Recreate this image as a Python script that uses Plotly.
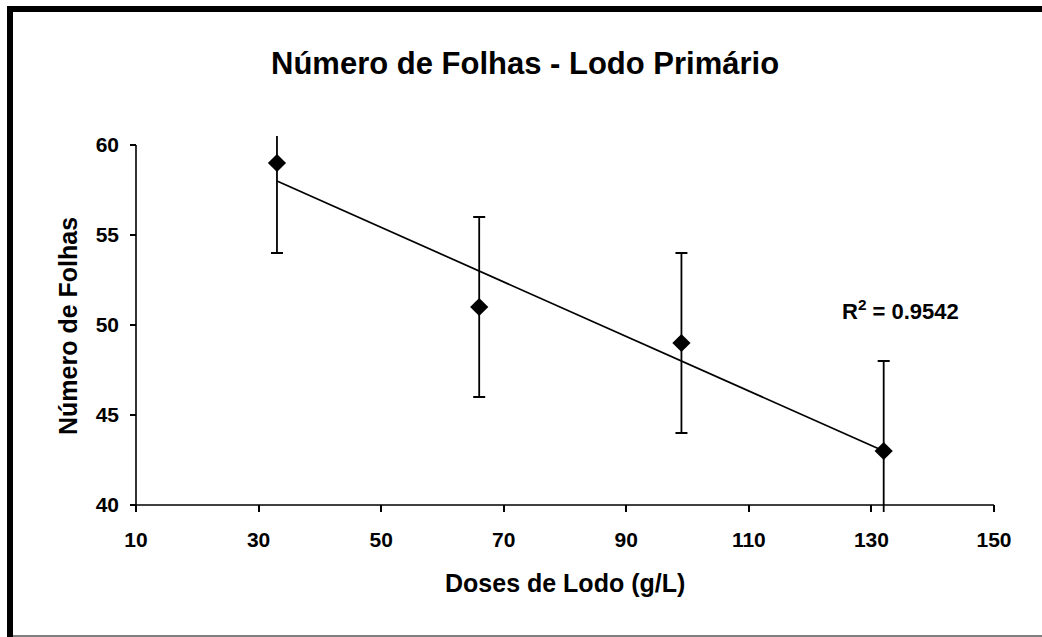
import numpy as np
import plotly.graph_objects as go

doses = [33, 66, 99, 132]
folhas = [59, 51, 49, 43]
erro = [5, 5, 5, 5]
x_ticks = [10, 30, 50, 70, 90, 110, 130, 150]
y_ticks = [40, 45, 50, 55, 60]

title_text = "Número de Folhas - Lodo Primário"
x_title = "Doses de Lodo (g/L)"
y_title = "Número de Folhas"

W, H = 1042, 637
L, R, T, B = 130, 997, 136, 512  # plot area in px

def px(xp):
    return (xp - L) / (R - L)

def py(yp):
    return (B - yp) / (B - T)

# axis ranges so that 10->136px, 150->994px, 40->505px, 60->145px
sx = (994 - 136) / 140.0
sy = (505 - 145) / 20.0
xr = [10 - (136 - L) / sx, 150 + (R - 994) / sx]
yr = [40 - (B - 505) / sy, 60 + (145 - T) / sy]

slope, inter = np.polyfit(doses, folhas, 1)
fit = [slope * d + inter for d in doses]
pred = np.array(fit)
obs = np.array(folhas)
r2 = 1 - ((obs - pred) ** 2).sum() / ((obs - obs.mean()) ** 2).sum()

FONT = "Liberation Sans, Arial, sans-serif"

fig = go.Figure()
fig.add_trace(go.Scatter(x=[doses[0], doses[-1]], y=[fit[0], fit[-1]], mode="lines",
                         line=dict(color="black", width=1.7), hoverinfo="skip", showlegend=False))
fig.add_trace(go.Scatter(x=doses, y=folhas, mode="markers",
                         marker=dict(symbol="diamond", size=14, color="black"),
                         error_y=dict(type="data", array=erro, visible=True, color="black",
                                      thickness=1.8, width=6),
                         showlegend=False))

fig.update_layout(
    width=W, height=H, margin=dict(l=L, r=W - R, t=T, b=H - B, pad=0),
    paper_bgcolor="white", plot_bgcolor="white",
    font=dict(family=FONT, color="black"),
    xaxis=dict(range=xr, tickvals=x_ticks, ticks="inside", ticklen=7, tickwidth=1.5,
               tickcolor="black", showgrid=False, zeroline=False, showline=False,
               tickfont=dict(size=21, family=FONT, weight="bold"), ticklabelstandoff=13),
    yaxis=dict(range=yr, tickvals=y_ticks, ticks="inside", ticklen=6, tickwidth=1.5,
               tickcolor="black", showgrid=False, zeroline=False, showline=False,
               tickfont=dict(size=21, family=FONT, weight="bold"), ticklabelstandoff=10),
    shapes=[
        dict(type="line", xref="x", yref="y", x0=10, x1=10, y0=40, y1=60,
             line=dict(color="black", width=1.6)),
        dict(type="line", xref="x", yref="y", x0=10, x1=150, y0=40, y1=40,
             line=dict(color="black", width=1.6)),
        # frame
        dict(type="line", xref="paper", yref="paper", x0=px(10), x1=px(10), y0=py(6), y1=py(640),
             line=dict(color="black", width=6)),
        dict(type="line", xref="paper", yref="paper", x0=px(7), x1=px(1045), y0=py(9), y1=py(9),
             line=dict(color="black", width=6)),
        dict(type="line", xref="paper", yref="paper", x0=px(7), x1=px(1045), y0=py(636), y1=py(636),
             line=dict(color="black", width=1.2)),
    ],
    annotations=[
        dict(text="<b>" + title_text + "</b>", xref="paper", yref="paper", x=px(525), y=py(63),
             xanchor="center", yanchor="middle", showarrow=False, font=dict(size=31, family=FONT)),
        dict(text="<b>" + x_title + "</b>", xref="paper", yref="paper", x=px(565), y=py(583),
             xanchor="center", yanchor="middle", showarrow=False, font=dict(size=25, family=FONT)),
        dict(text="<b>" + y_title + "</b>", xref="paper", yref="paper", x=px(68), y=py(326),
             xanchor="center", yanchor="middle", textangle=-90, showarrow=False,
             font=dict(size=25, family=FONT)),
        dict(text="<b>R<sup>2</sup> = %.4f</b>" % r2, xref="paper", yref="paper", x=px(900), y=py(310),
             xanchor="center", yanchor="middle", showarrow=False, font=dict(size=22, family=FONT)),
    ],
)

fig.write_html("out.html")
